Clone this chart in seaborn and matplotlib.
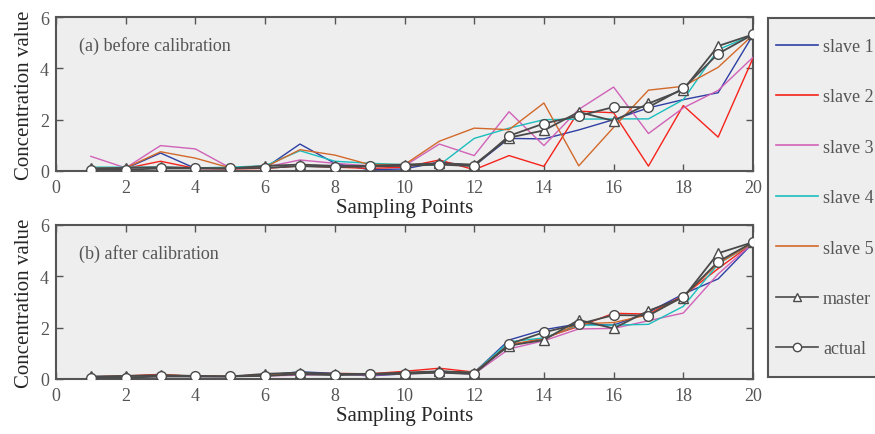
import numpy as np
import pandas as pd
import matplotlib
matplotlib.use("Agg")
import matplotlib.pyplot as plt
from matplotlib.lines import Line2D
import seaborn as sns

points = list(range(1, 21))

# (a) before calibration
before_slave1 = [0.10, 0.10, 0.70, 0.10, 0.10, 0.12, 1.05, 0.30, 0.05, 0.08, 0.35, 0.20, 1.27, 1.25, 1.60, 2.00, 2.46, 2.78, 3.05, 5.30]
before_slave2 = [0.10, 0.10, 0.38, 0.10, 0.08, 0.10, 0.20, 0.15, 0.10, 0.15, 0.43, 0.05, 0.60, 0.18, 2.33, 2.27, 0.19, 2.55, 1.32, 4.40]
before_slave3 = [0.57, 0.12, 0.99, 0.86, 0.12, 0.15, 0.43, 0.30, 0.20, 0.20, 1.05, 0.60, 2.31, 0.99, 2.40, 3.27, 1.46, 2.46, 3.14, 4.43]
before_slave4 = [0.15, 0.15, 0.15, 0.12, 0.15, 0.20, 0.79, 0.38, 0.30, 0.25, 0.23, 1.27, 1.67, 2.00, 2.02, 2.03, 2.03, 2.78, 4.73, 5.30]
before_slave5 = [0.10, 0.12, 0.75, 0.50, 0.12, 0.15, 0.83, 0.62, 0.25, 0.25, 1.16, 1.67, 1.61, 2.65, 0.20, 1.70, 3.15, 3.30, 4.04, 5.30]
before_master = [0.10, 0.12, 0.15, 0.12, 0.10, 0.20, 0.25, 0.20, 0.20, 0.25, 0.30, 0.25, 1.30, 1.58, 2.30, 1.95, 2.63, 3.17, 4.87, 5.32]
before_actual = [0.05, 0.05, 0.10, 0.10, 0.10, 0.12, 0.19, 0.15, 0.18, 0.20, 0.25, 0.19, 1.37, 1.85, 2.15, 2.49, 2.49, 3.22, 4.57, 5.32]

# (b) after calibration
after_slave1 = [0.05, 0.08, 0.10, 0.10, 0.10, 0.15, 0.28, 0.22, 0.12, 0.20, 0.30, 0.25, 1.52, 1.92, 2.15, 2.10, 2.60, 3.31, 3.90, 5.30]
after_slave2 = [0.08, 0.12, 0.18, 0.10, 0.10, 0.18, 0.20, 0.22, 0.20, 0.30, 0.42, 0.27, 1.30, 1.60, 2.05, 2.56, 2.53, 3.25, 4.30, 5.30]
after_slave3 = [0.05, 0.10, 0.12, 0.10, 0.10, 0.12, 0.15, 0.18, 0.15, 0.20, 0.25, 0.20, 1.17, 1.49, 1.95, 1.97, 2.27, 2.57, 4.09, 5.30]
after_slave4 = [0.06, 0.10, 0.12, 0.10, 0.10, 0.15, 0.20, 0.18, 0.18, 0.22, 0.30, 0.25, 1.45, 1.60, 2.10, 2.10, 2.13, 2.83, 4.48, 5.30]
after_slave5 = [0.08, 0.12, 0.15, 0.12, 0.10, 0.15, 0.20, 0.20, 0.18, 0.22, 0.30, 0.25, 1.35, 1.55, 2.15, 2.20, 2.50, 3.20, 4.50, 5.30]
after_master = [0.10, 0.12, 0.15, 0.12, 0.10, 0.20, 0.25, 0.20, 0.20, 0.25, 0.30, 0.25, 1.30, 1.52, 2.30, 1.97, 2.66, 3.17, 4.90, 5.33]
after_actual = [0.05, 0.05, 0.10, 0.10, 0.10, 0.12, 0.19, 0.15, 0.18, 0.20, 0.25, 0.19, 1.36, 1.82, 2.14, 2.49, 2.47, 3.21, 4.57, 5.33]

series_names = ["slave 1", "slave 2", "slave 3", "slave 4", "slave 5", "master", "actual"]
x_ticks = [0, 2, 4, 6, 8, 10, 12, 14, 16, 18, 20]
y_ticks = [0, 2, 4, 6]
panel_titles = ["(a) before calibration", "(b) after calibration"]

colors = {"slave 1": "#2E3FA3", "slave 2": "#F5231B", "slave 3": "#D062B8",
          "slave 4": "#1BBDBD", "slave 5": "#D2692A", "master": "#4a4a4a", "actual": "#4a4a4a"}
markers = {"master": "^", "actual": "o"}

plt.rcParams['font.family'] = ['Liberation Serif', 'DejaVu Serif']

W, H = 875, 435
fig = plt.figure(figsize=(W / 100, H / 100), dpi=100)

def px_axes(x0, y0, x1, y1):
    return fig.add_axes([x0 / W, 1 - y1 / H, (x1 - x0) / W, (y1 - y0) / H])

ax_top = px_axes(56, 18, 753, 172)
ax_bot = px_axes(56, 226, 753, 380)

panels = [
    (ax_top, [before_slave1, before_slave2, before_slave3, before_slave4, before_slave5, before_master, before_actual]),
    (ax_bot, [after_slave1, after_slave2, after_slave3, after_slave4, after_slave5, after_master, after_actual]),
]

spine_c = "#555555"
for (ax, vals), title in zip(panels, panel_titles):
    ax.set_facecolor("#eeeeee")
    for name, v in zip(series_names, vals):
        df = pd.DataFrame({"x": points, "y": v})
        if name in markers:
            sns.lineplot(data=df, x="x", y="y", ax=ax, color=colors[name], lw=1.3,
                         marker=markers[name], markersize=7.5 if name == "master" else 7,
                         markerfacecolor="white", markeredgecolor="#4a4a4a",
                         markeredgewidth=1.0, zorder=4 if name == "master" else 5)
        else:
            sns.lineplot(data=df, x="x", y="y", ax=ax, color=colors[name], lw=1.0, zorder=3)
    ax.set_xlim(0, 20)
    ax.set_ylim(0, 6)
    ax.set_xticks(x_ticks)
    ax.set_yticks(y_ticks)
    ax.tick_params(direction="in", length=5, width=1.0, colors=spine_c,
                   labelsize=13, labelcolor="#555555", top=True, right=True)
    ax.tick_params(axis="x", pad=6)
    ax.tick_params(axis="y", pad=5)
    for s in ax.spines.values():
        s.set_color(spine_c)
        s.set_linewidth(1.5)
    ax.set_xlabel("Sampling Points", fontsize=15, color="#262626", labelpad=1)
    ax.set_ylabel("Concentration value", fontsize=15, color="#262626", labelpad=4)
    ax.text(0.033, 0.82, title, transform=ax.transAxes, fontsize=13,
            color="#555555", va="center", ha="left")

handles = []
for name in series_names:
    if name in markers:
        handles.append(Line2D([], [], color=colors[name], lw=1.2, marker=markers[name],
                              markersize=6, markerfacecolor="white",
                              markeredgecolor="#4a4a4a", markeredgewidth=1.0))
    else:
        handles.append(Line2D([], [], color=colors[name], lw=1.2))

ax_leg = px_axes(768, 19, 900, 378)
ax_leg.set_facecolor("#eeeeee")
ax_leg.set_xticks([])
ax_leg.set_yticks([])
for s in ax_leg.spines.values():
    s.set_color(spine_c)
    s.set_linewidth(1.5)

leg = fig.legend(handles, series_names, loc="upper left",
                 bbox_to_anchor=(776 / W, 1 - 39 / H), bbox_transform=fig.transFigure,
                 frameon=False, fontsize=13, labelspacing=1.85, handlelength=2.3,
                 handletextpad=0.3, borderpad=0, borderaxespad=0, labelcolor="#555555")

fig.savefig("out.png", dpi=100, facecolor="white")
